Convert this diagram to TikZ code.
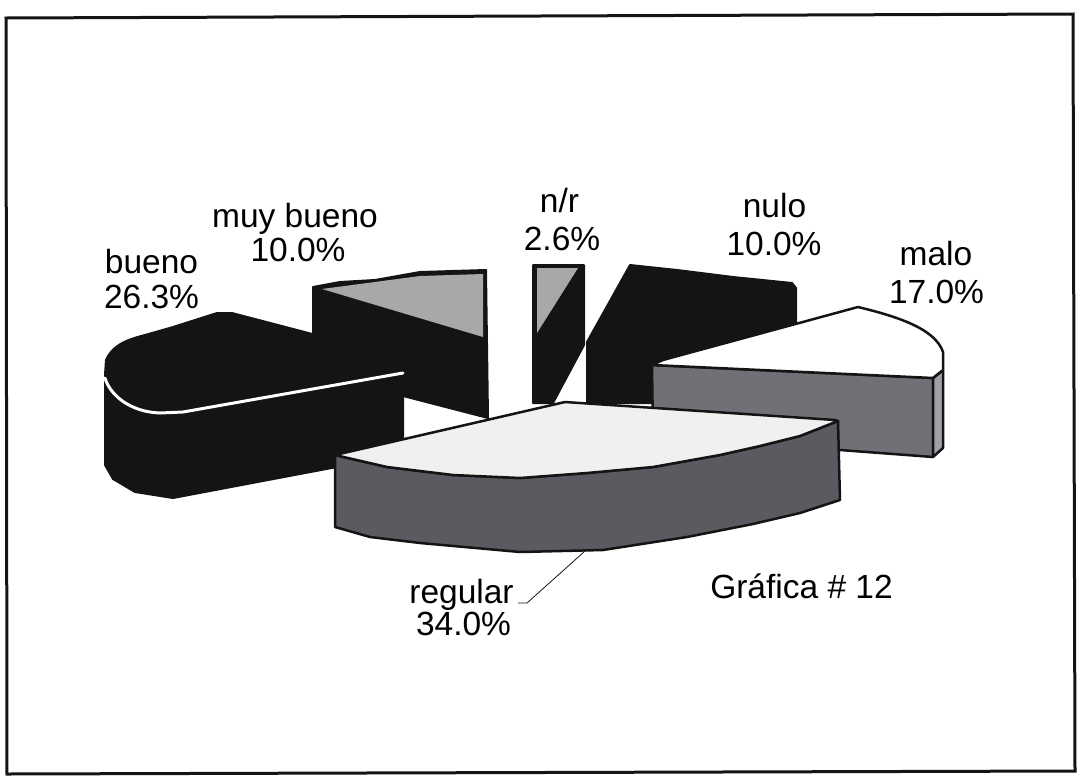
\documentclass[tikz,border=0pt]{standalone}
\usepackage{fontspec}
\setmainfont{Liberation Sans}
\definecolor{blk}{HTML}{141414}
\definecolor{topgray}{HTML}{A8A8A8}
\definecolor{malogray}{HTML}{707077}
\definecolor{striplight}{HTML}{A0A0A6}
\definecolor{reggray}{HTML}{5A5A61}
\definecolor{regtop}{HTML}{F0F0F0}
\begin{document}
\begin{tikzpicture}[x=1pt,y=-1pt]
\tikzset{
  lbl/.style={anchor=base, inner sep=0pt, font=\fontsize{33.5}{37}\selectfont},
  solidblk/.style={fill=blk, draw=blk, line width=2, line join=round},
  greytop/.style={fill=topgray, draw=none},
  facegray/.style={draw=blk, line width=2.5, line join=round},
  frame/.style={draw=blk, line width=3},
  leader/.style={draw=blk, line width=0.8}
}
\useasboundingbox (0,0) rectangle (1077,780);
% frame
\draw[frame] (6,18) -- (1073,14) -- (1075,771) -- (7,774) -- cycle;

% muy bueno
\path[solidblk] (313,287) -- (340,282) -- (375,280) -- (420,272) -- (486,270) -- (488,418) -- (403,396) -- (313,380) -- cycle;
\path[greytop] (322,289) -- (420,276) -- (483,274) -- (483,337) -- cycle;

% n/r
\path[solidblk] (533,265) -- (584,265) -- (584,345) -- (553,403) -- (533,403) -- cycle;
\path[greytop] (537,268) -- (578,268) -- (537,333) -- cycle;

% nulo
\path[solidblk] (630,265) -- (677,270) -- (733,277) -- (792,283) -- (796,288) -- (796,330) -- (653,370) -- (653,403) -- (587,403) -- (587,342) -- cycle;

% bueno
\path[solidblk] (105,375) -- (106,360) .. controls (112,346) and (125,340) .. (145,335) -- (173,327) -- (217,313) -- (232,313) -- (320,336) -- (403,373) -- (403,455) -- (337,467) -- (173,498) -- (135,492) -- (113,479) -- (105,465) -- cycle;
\draw[white, line width=3, line cap=round] (105,378) .. controls (110,395) and (130,412) .. (160,413) -- (183,412) -- (403,373);

% malo
\path[fill=malogray, facegray] (652,365) -- (933,378) -- (933,457) -- (840,450) -- (653,437) -- cycle;
\path[fill=striplight, facegray] (933,378) -- (943,370) -- (943,448) -- (933,457) -- cycle;
\path[fill=white, facegray] (652,365) -- (663,360) -- (858,307) .. controls (895,316) and (935,328) .. (943,352) -- (943,370) -- (933,378) -- cycle;

% regular
\path[fill=reggray, facegray] (335,455) -- (387,467) -- (453,475) -- (520,478) -- (587,473) -- (653,467) -- (720,455) -- (760,446) -- (800,436) -- (838,421) -- (840,500) -- (800,513) -- (753,524) -- (687,537) -- (603,550) -- (520,552) -- (420,543) -- (370,537) -- (335,527) -- cycle;
\path[fill=regtop, facegray] (335,455) -- (565,402) -- (835,420) -- (838,421) -- (800,436) -- (760,446) -- (720,455) -- (653,467) -- (587,473) -- (520,478) -- (453,475) -- (387,467) -- cycle;

% labels
\node[lbl] (bueno1) at (151.5,273) {bueno};
\node[lbl] (bueno2) at (151.5,308) {26.3\%};
\node[lbl] (muyb1) at (295,227) {muy bueno};
\node[lbl] (muyb2) at (298,261) {10.0\%};
\node[lbl] (nr1) at (559.5,212) {n/r};
\node[lbl] (nr2) at (562,250) {2.6\%};
\node[lbl] (nulo1) at (774.5,217) {nulo};
\node[lbl] (nulo2) at (774,255) {10.0\%};
\node[lbl] (malo1) at (936,265) {malo};
\node[lbl] (malo2) at (936.5,303) {17.0\%};
\node[lbl] (reg1) at (461.5,603) {regular};
\node[lbl] (reg2) at (463.5,635) {34.0\%};
\node[lbl] (graf) at (801.5,598) {Gráfica \# 12};

% leader for regular
\coordinate (regbend) at (527,603);
\coordinate (regtip) at (585,551);
\draw[leader] (reg1.base east) ++(4,0) -- (regbend) -- (regtip);
\end{tikzpicture}
\end{document}
